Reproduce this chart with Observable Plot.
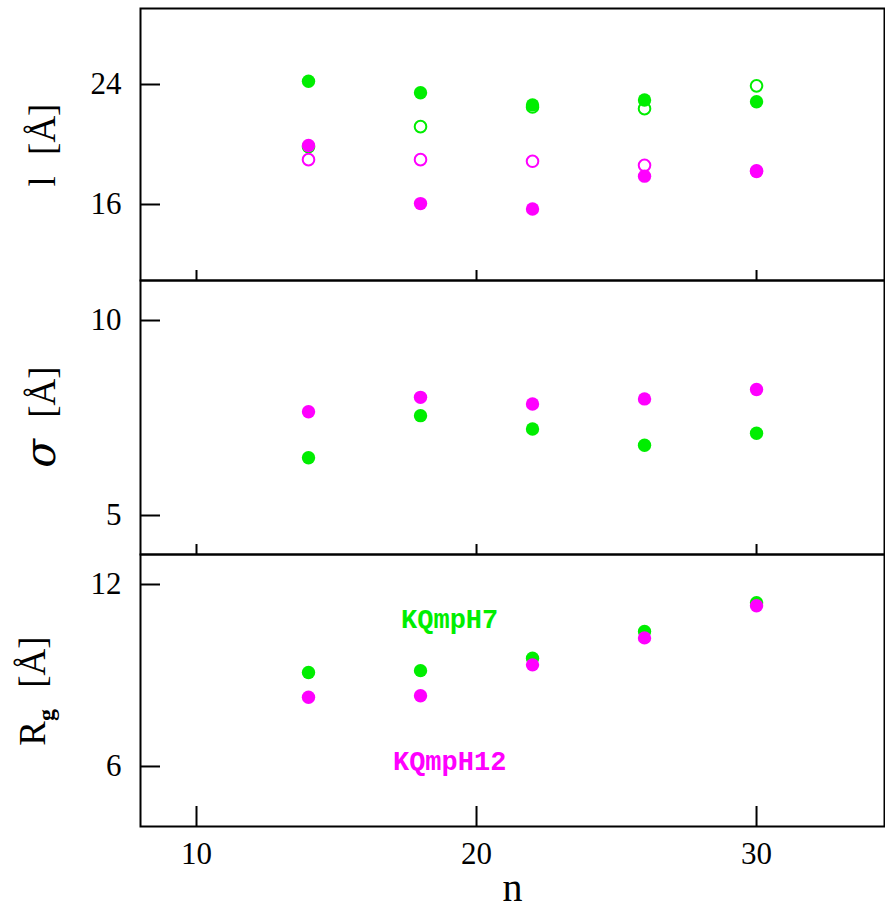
<!DOCTYPE html>
<html>
<head>
<meta charset="utf-8">
<script src="https://cdn.jsdelivr.net/npm/d3@7"></script>
<script src="https://cdn.jsdelivr.net/npm/@observablehq/plot@0.6"></script>
<style>
  html, body { margin: 0; padding: 0; background: white; }
  #chart { position: relative; width: 885px; height: 909px; }
  #chart svg { position: absolute; left: 0; overflow: visible; background: transparent; }
</style>
</head>
<body>
<div id="chart"></div>
<script>
// ---- data ----
const n = [14, 18, 22, 26, 30];
const lH7 = [24.22, 23.45, 22.64, 22.97, 22.85];
const lH7open = [19.85, 21.19, 22.50, 22.39, 23.91];
const lH12 = [19.93, 16.06, 15.70, 17.89, 18.20];
const lH12open = [18.99, 18.99, 18.88, 18.61, 18.25];
const sigmaH7 = [6.48, 7.56, 7.22, 6.80, 7.11];
const sigmaH12 = [7.66, 8.03, 7.86, 7.99, 8.23];
const rgH7 = [9.10, 9.16, 9.57, 10.45, 11.40];
const rgH12 = [8.28, 8.33, 9.35, 10.24, 11.30];
const xTicks = [10, 20, 30];
const lTicks = [16, 24];
const sigmaTicks = [5, 10];
const rgTicks = [6, 12];
const seriesNames = ["KQmpH7", "KQmpH12"];
const seriesLabelN = [19.04, 19.04];
const seriesLabelRg = [10.85, 6.16];

const GREEN = "#00ee00";
const MAGENTA = "#ff00ff";
const W = 885, ML = 140, MR = 1;
const frameW = W - ML - MR;
const tickFont = "Liberation Serif";
const intFmt = d3.format("d");

const rows = (ys) => n.map((x, i) => ({n: x, v: ys[i]}));
const filled = (ys, c) => Plot.dot(rows(ys), {x: "n", y: "v", r: 6.7, fill: c, stroke: "none"});
const open = (ys, c) => Plot.dot(rows(ys), {x: "n", y: "v", r: 5.8, fill: "none", stroke: c, strokeWidth: 2});

function panel({top, height, mt, mb, domain, ticks, xTickLen, bottomAxis, layers}) {
  const frameH = height - mt - mb;
  const marks = [
    Plot.frame({stroke: "black", strokeWidth: 2}),
    Plot.axisY({ticks, tickFormat: intFmt, tickSize: 0, tickPadding: 19, label: null, fontSize: 31, fontFamily: tickFont}),
    Plot.tickY(ticks, {y: d => d, insetRight: frameW - 20, stroke: "black", strokeWidth: 2}),
    Plot.tickX(xTicks, {x: d => d, insetTop: frameH - xTickLen, stroke: "black", strokeWidth: 2}),
    ...layers
  ];
  if (bottomAxis) {
    marks.push(Plot.axisX({ticks: xTicks, tickFormat: intFmt, tickSize: 0, tickPadding: 15, label: null, fontSize: 31, fontFamily: tickFont}));
  }
  const svg = Plot.plot({
    width: W, height,
    marginLeft: ML, marginRight: MR, marginTop: mt, marginBottom: mb,
    x: {domain: [8, 34.57], axis: bottomAxis ? undefined : null},
    y: {domain},
    style: {fontFamily: tickFont, fontSize: "31px", background: "transparent", color: "black", overflow: "visible"},
    marks
  });
  svg.style.top = top + "px";
  document.getElementById("chart").appendChild(svg);
  return svg;
}

function yLabel(svg, top, baselineX, centerY, build) {
  const t = d3.select(svg).append("text")
    .attr("transform", `translate(${baselineX},${centerY - top}) rotate(-90)`)
    .attr("text-anchor", "middle")
    .attr("font-family", "Liberation Serif")
    .attr("font-size", 37)
    .attr("fill", "black");
  build(t);
}

// Panel 1: l
const p1 = panel({
  top: 0, height: 281, mt: 8, mb: 1, domain: [10.933, 29.067], ticks: lTicks, xTickLen: 10, bottomAxis: false,
  layers: [open(lH7open, GREEN), open(lH12open, MAGENTA), filled(lH7, GREEN), filled(lH12, MAGENTA)]
});
yLabel(p1, 0, 55, 145, t => { t.attr("word-spacing", 12).text("l [Å]"); });

// Panel 2: sigma
const p2 = panel({
  top: 279, height: 276, mt: 1, mb: 1, domain: [4.0, 11.026], ticks: sigmaTicks, xTickLen: 10, bottomAxis: false,
  layers: [filled(sigmaH7, GREEN), filled(sigmaH12, MAGENTA)]
});
yLabel(p2, 279, 55, 417, t => {
  t.attr("word-spacing", 12);
  t.append("tspan").attr("font-family", "DejaVu Serif").attr("font-style", "italic").attr("font-size", 42).text("σ");
  t.append("tspan").text(" [Å]");
});

// Panel 3: Rg
const labelRows = seriesNames.map((s, i) => ({s, n: seriesLabelN[i], v: seriesLabelRg[i]}));
const p3 = panel({
  top: 553, height: 356, mt: 1, mb: 83, domain: [4.021, 12.989], ticks: rgTicks, xTickLen: 20, bottomAxis: true,
  layers: [
    filled(rgH7, GREEN), filled(rgH12, MAGENTA),
    Plot.text(labelRows, {x: "n", y: "v", text: "s", fill: (d, i) => i === 0 ? GREEN : MAGENTA,
      fontFamily: "Liberation Mono", fontWeight: "bold", fontSize: 27, textAnchor: "middle"}),
    Plot.text(["n"], {frameAnchor: "bottom", text: d => d, dy: 74,
      fontFamily: "Liberation Serif", fontSize: 40, fill: "black"})
  ]
});
yLabel(p3, 553, 45, 691, t => {
  t.attr("word-spacing", 12);
  t.append("tspan").text("R");
  t.append("tspan").attr("dy", 9).attr("font-size", 24).attr("font-weight", "bold").text("g");
  t.append("tspan").attr("dy", -9).text(" [Å]");
});
</script>
</body>
</html>
